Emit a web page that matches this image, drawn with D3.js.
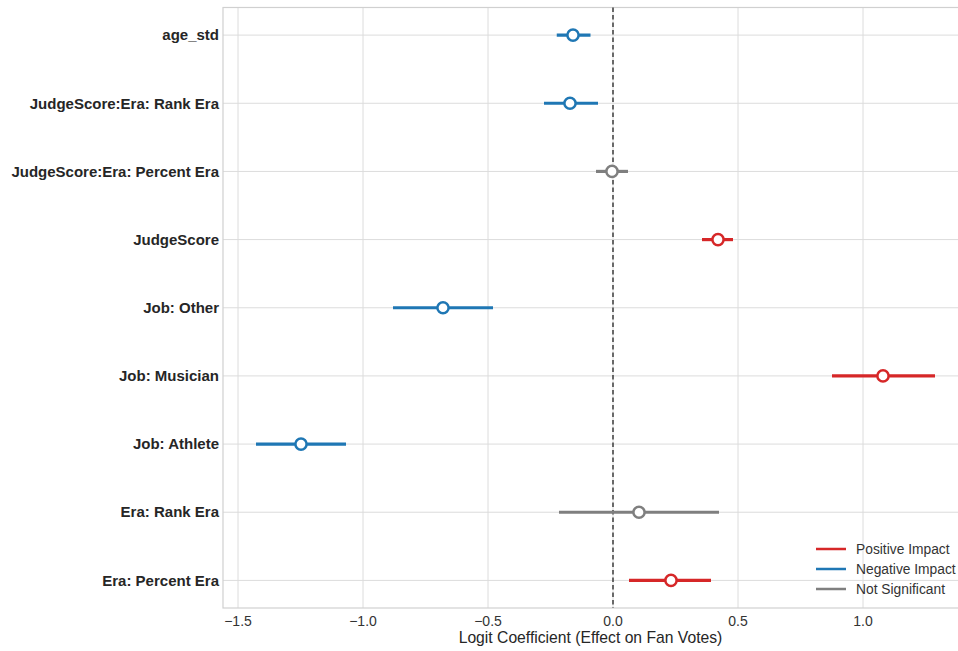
<!DOCTYPE html>
<html>
<head>
<meta charset="utf-8">
<script src="https://cdn.jsdelivr.net/npm/d3@7"></script>
<style>
  body { margin: 0; background: #fff; }
  svg { display: block; font-family: "Liberation Sans", Arial, sans-serif; }
</style>
</head>
<body>
<svg id="chart" width="958" height="651"></svg>
<script>
// Coefficient plot data (top to bottom)
const terms = [
    "age_std",
    "JudgeScore:Era: Rank Era",
    "JudgeScore:Era: Percent Era",
    "JudgeScore",
    "Job: Other",
    "Job: Musician",
    "Job: Athlete",
    "Era: Rank Era",
    "Era: Percent Era"
];
const coef    = [-0.16, -0.172, -0.004, 0.42, -0.68, 1.08, -1.248, 0.104, 0.232];
const ciLow   = [-0.225, -0.276, -0.068, 0.356, -0.88, 0.876, -1.428, -0.216, 0.064];
const ciHigh  = [-0.09, -0.06, 0.06, 0.48, -0.48, 1.288, -1.068, 0.424, 0.392];
const effect  = ["neg", "neg", "ns", "pos", "neg", "pos", "neg", "ns", "pos"];

const xTicks = [-1.5, -1.0, -0.5, 0.0, 0.5, 1.0];
const legendItems = [
    { key: "pos", label: "Positive Impact" },
    { key: "neg", label: "Negative Impact" },
    { key: "ns",  label: "Not Significant" }
];

const colors = { pos: "#d62728", neg: "#1f77b4", ns: "#7f7f7f" };

const svg = d3.select("#chart");
const margin = { left: 223, right: 0, top: 7.5, bottom: 43 };
const width = 958, height = 651;

const x = d3.scaleLinear()
    .domain([-1.56, 1.38])
    .range([margin.left, width - margin.right]);

const y = d3.scaleLinear()
    .domain([-0.405, terms.length - 1 + 0.405])
    .range([margin.top, height - margin.bottom]);

// Grid
const grid = svg.append("g");
grid.selectAll(".gx")
    .data(xTicks)
    .enter().append("line")
    .attr("x1", d => x(d)).attr("x2", d => x(d))
    .attr("y1", margin.top).attr("y2", height - margin.bottom)
    .style("stroke", "#dcdcdc").style("stroke-width", 1);

grid.selectAll(".gy")
    .data(terms)
    .enter().append("line")
    .attr("x1", margin.left).attr("x2", width)
    .attr("y1", (d, i) => y(i)).attr("y2", (d, i) => y(i))
    .style("stroke", "#dcdcdc").style("stroke-width", 1);

// Frame
svg.append("rect")
    .attr("x", margin.left).attr("y", margin.top)
    .attr("width", width - margin.left + 2)
    .attr("height", height - margin.bottom - margin.top)
    .style("fill", "none").style("stroke", "#d0d0d0").style("stroke-width", 1.2);

// Zero line
svg.append("line")
    .attr("x1", x(0)).attr("x2", x(0))
    .attr("y1", margin.top).attr("y2", height - margin.bottom)
    .style("stroke", "#222").style("stroke-width", 1.3)
    .style("stroke-dasharray", "4.5,3");

// Error bars + points
const marks = svg.append("g");
terms.forEach((t, i) => {
    const c = colors[effect[i]];
    marks.append("line")
        .attr("x1", x(ciLow[i])).attr("x2", x(ciHigh[i]))
        .attr("y1", y(i)).attr("y2", y(i))
        .style("stroke", c).style("stroke-width", 3.2);
    marks.append("circle")
        .attr("cx", x(coef[i])).attr("cy", y(i))
        .attr("r", 5.6)
        .style("fill", "#fff").style("stroke", c).style("stroke-width", 2.5);
});

// Y labels
svg.append("g").selectAll("text")
    .data(terms)
    .enter().append("text")
    .attr("x", margin.left - 4)
    .attr("y", (d, i) => y(i))
    .attr("dy", "0.35em")
    .attr("text-anchor", "end")
    .style("font-size", "15px").style("font-weight", "bold").style("fill", "#262626")
    .text(d => d);

// X axis ticks
const fmt = d => d3.format(".1f")(d).replace("-", "\u2212");
svg.append("g").selectAll("text")
    .data(xTicks)
    .enter().append("text")
    .attr("x", d => x(d))
    .attr("y", height - margin.bottom + 18)
    .attr("text-anchor", "middle")
    .style("font-size", "14px").style("fill", "#333")
    .text(fmt);

svg.append("text")
    .attr("x", (margin.left + width) / 2)
    .attr("y", 643)
    .attr("text-anchor", "middle")
    .style("font-size", "15.7px").style("fill", "#262626")
    .text("Logit Coefficient (Effect on Fan Votes)");

// Legend
const legend = svg.append("g").attr("transform", "translate(816,549)");
legendItems.forEach((it, i) => {
    legend.append("line")
        .attr("x1", 0).attr("x2", 30)
        .attr("y1", i * 20).attr("y2", i * 20)
        .style("stroke", colors[it.key]).style("stroke-width", 2.5);
    legend.append("text")
        .attr("x", 40).attr("y", i * 20)
        .attr("dy", "0.35em")
        .style("font-size", "13.8px").style("fill", "#333")
        .text(it.label);
});
</script>
</body>
</html>
